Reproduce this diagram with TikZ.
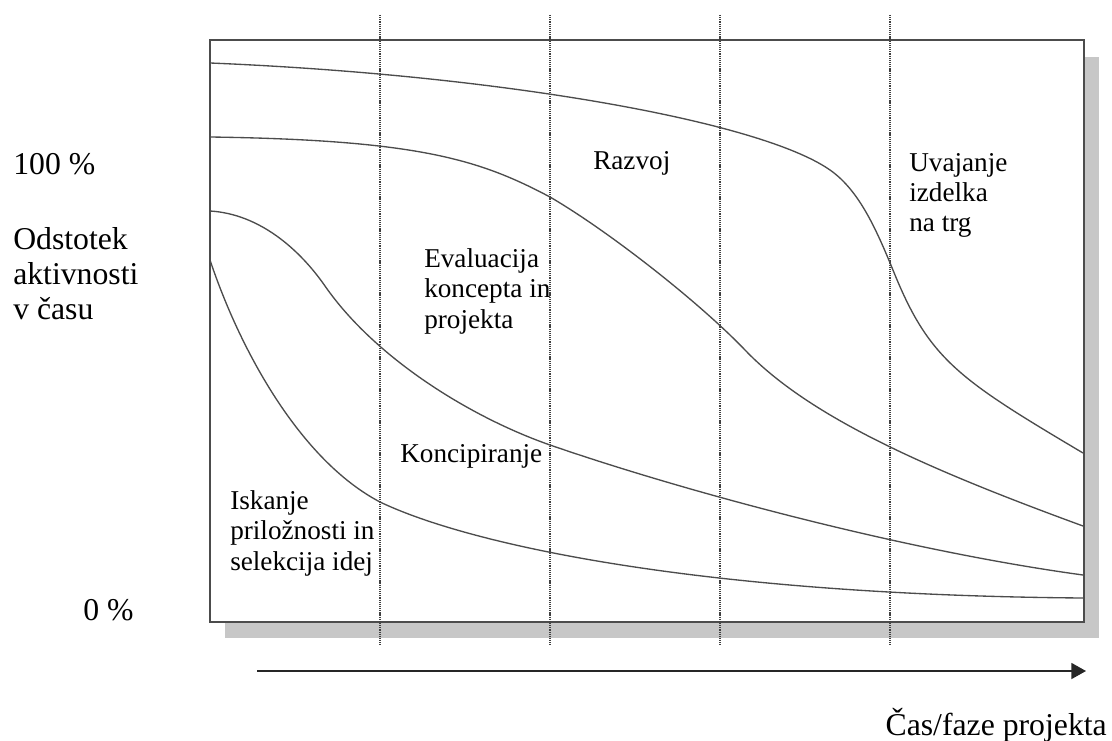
\documentclass[tikz,border=0pt]{standalone}
\usepackage{fontspec}
\setmainfont{Liberation Serif}
\usetikzlibrary{arrows.meta}

\tikzset{
  lbl/.style={anchor=base west, inner sep=0pt, align=left, font=\fontsize{20.4}{22.8}\selectfont},
  axlbl/.style={anchor=base west, inner sep=0pt, align=left, font=\fontsize{23.8}{26.3}\selectfont},
  krivulja/.style={line width=1pt, draw=black!70},
  meja/.style={line width=0.8pt, draw=black!75, dash pattern=on 0.9pt off 0.7pt},
}

\begin{document}
\begin{tikzpicture}[x=0.75pt,y=0.75pt,yscale=-1,xscale=1]
        \useasboundingbox (0,0) rectangle (1112,741);
        % senca in okvir
        \fill[black!22] (225,57) rectangle (1099,638);
        \draw[line width=1.1pt, draw=black!70, fill=white] (210,40) rectangle (1084,622);
        % meje med fazami
        \foreach \x in {380,550,720,890} \draw[meja] (\x,15) -- (\x,645);
        % krivulje
        \draw[krivulja] (210,63) .. controls (500,75) and (760,121) .. (830,170)
                                 .. controls (860,191) and (877,231) .. (895,275)
                                 .. controls (930,360) and (960,380) .. (1083,453);
        \draw[krivulja] (210,137) .. controls (420,140) and (480,160) .. (550,197)
                                  .. controls (610,232) and (700,303) .. (745,350)
                                  .. controls (810,418) and (930,470) .. (1083,526);
        \draw[krivulja] (210,211) .. controls (260,214) and (300,250) .. (325,286)
                                  .. controls (375,358) and (470,417) .. (550,445)
                                  .. controls (680,490) and (900,550) .. (1083,575);
        \draw[krivulja] (210,260) .. controls (240,350) and (300,460) .. (380,502)
                                  .. controls (470,545) and (700,595) .. (1083,598);
        % puscica casa
        \coordinate (zac) at (257,671);
        \coordinate (kon) at (1086,671);
        \draw[line width=1.3pt, draw=black!85, -{Triangle[length=11pt,width=12pt]}] (zac) -- (kon);

        % oznake
        \node[axlbl] (sto) at (13,175) {100 \%};
        \node[axlbl] (nic) at (83,620) {0 \%};
        \node[axlbl] (odstotek) at (13,320) {Odstotek\\aktivnosti\\v času};
        \node[axlbl, anchor=base east] (cas) at (1107,735) {Čas/faze projekta};
        \node[lbl] (razvoj) at (593,170) {Razvoj};
        \node[lbl] (uvajanje) at (909,232) {Uvajanje\\izdelka\\na trg};
        \node[lbl] (evalvacija) at (424,328) {Evaluacija\\koncepta in\\projekta};
        \node[lbl] (koncipiranje) at (400,462) {Koncipiranje};
        \node[lbl] (iskanje) at (230,570) {Iskanje\\priložnosti in\\selekcija idej};
\end{tikzpicture}
\end{document}
